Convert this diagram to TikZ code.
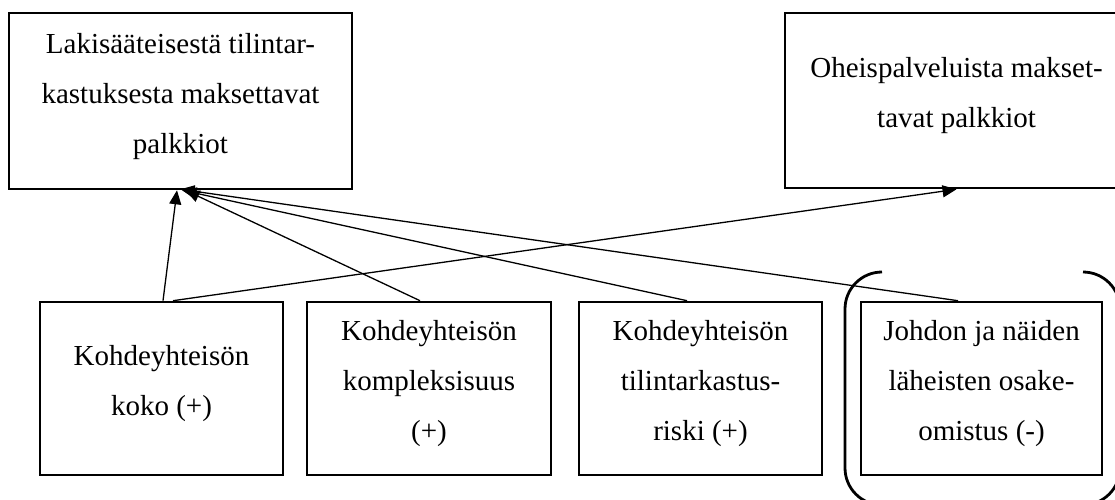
\documentclass[tikz,border=0pt]{standalone}
\usepackage{fontspec}
\setmainfont{Liberation Serif}
\usetikzlibrary{arrows.meta,calc}
\begin{document}
\begin{tikzpicture}[x=1pt,y=-1pt,
  box/.style={draw, line width=2.6pt, rectangle, inner sep=0pt,
    align=center, text depth=16pt,
    font=\fontsize{29}{50}\selectfont},
  effect/.style={line width=1.3pt, -{Triangle[length=14pt,width=12pt]}},
  brace/.style={line width=2.8pt, rounded corners=37pt}]
\useasboundingbox (0,0) rectangle (1115,499);
\clip (0,0) rectangle (1115,499);

% outcome boxes
\node[box, minimum width=343pt, minimum height=176pt] (fees) at (180.5,101)
  {Lakisääteisestä tilintar-\\kastuksesta maksettavat\\palkkiot};
\node[box, minimum width=343pt, minimum height=175pt] (other) at (956.5,100.5)
  {Oheispalveluista makset-\\tavat palkkiot};

% explanatory factors
\node[box, minimum width=243pt, minimum height=173pt] (size) at (161.5,388.5)
  {Kohdeyhteisön\\koko (+)};
\node[box, minimum width=244pt, minimum height=173pt] (complex) at (429,388.5)
  {Kohdeyhteisön\\kompleksisuus\\(+)};
\node[box, minimum width=243pt, minimum height=173pt] (risk) at (700.5,388.5)
  {Kohdeyhteisön\\tilintarkastus-\\riski (+)};
\node[box, minimum width=241pt, minimum height=173pt] (owner) at (981.5,388.5)
  {Johdon ja näiden\\läheisten osake-\\omistus (-)};

% bracket around the ownership factor
\draw[brace] (882,272) -- (845,272) -- (845,505) -- (882,505);
\draw[brace] (1083,272) -- (1120,272) -- (1120,505) -- (1083,505);

% effects
\draw[effect] ($(size.north)+(1.5,0)$) -- ($(fees.south)+(-3.5,0)$);
\draw[effect] ($(size.north)+(11.5,0)$) -- (other.south);
\draw[effect] ($(complex.north)+(-9,0)$) -- ($(fees.south)+(5,0)$);
\draw[effect] ($(risk.north)+(-13.5,0)$) -- ($(fees.south)+(2,0)$);
\draw[effect] ($(owner.north)+(-23.5,0)$) -- ($(fees.south)+(0,-1)$);
\end{tikzpicture}
\end{document}
